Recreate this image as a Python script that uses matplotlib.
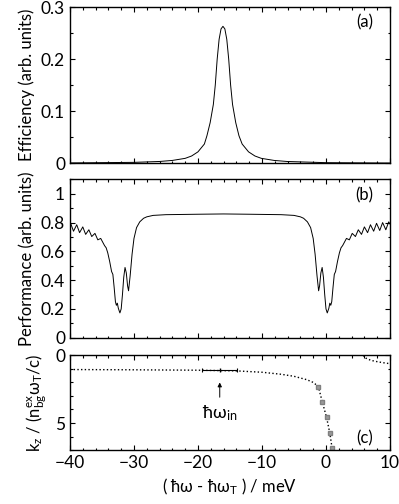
import matplotlib
matplotlib.use("Agg")
import matplotlib.pyplot as plt
from matplotlib.ticker import MultipleLocator

plt.rcParams['font.family'] = ['Lato', 'DejaVu Sans']
plt.rcParams['font.size'] = 12
plt.rcParams['mathtext.fontset'] = 'custom'
plt.rcParams['mathtext.rm'] = 'Lato'
plt.rcParams['mathtext.it'] = 'Lato'

# (a) efficiency peak
eff_x = [-40, -30, -26, -24, -22, -21, -20, -19, -18.6, -18.1, -17.6, -17.3,
         -17.0, -16.7, -16.4, -16.1, -15.8, -15.5, -15.2, -14.9, -14.6, -14.1,
         -13.6, -13.1, -12.1, -11.1, -10.1, -8.1, -6.1, 0, 10]
eff_y = [0.0007, 0.0018, 0.0035, 0.0055, 0.0095, 0.014, 0.022, 0.037, 0.053,
         0.078, 0.113, 0.150, 0.200, 0.238, 0.258, 0.263, 0.258, 0.238, 0.200,
         0.150, 0.113, 0.078, 0.053, 0.037, 0.022, 0.014, 0.0095, 0.0055,
         0.0035, 0.0012, 0.0005]

# (b) performance
perf_x = [-40.0, -39.9, -39.45, -38.95, -38.5, -38.0, -37.55, -37.05, -36.6, -36.1,
          -35.65, -35.2, -34.9, -34.6, -34.35, -34.1, -33.8, -33.5, -33.3, -33.1,
          -32.9, -32.75, -32.6, -32.45, -32.2, -32.0, -31.8, -31.6, -31.4, -31.2,
          -31.0, -30.85, -30.6, -30.3, -30.0, -29.6, -29.1, -28.5, -28.0, -27.0,
          -25.0, -20.0, -16.0, -12.0, -7.0, -5.0, -4.0, -3.5, -2.9, -2.4, -2.0,
          -1.7, -1.4, -1.15, -1.0, -0.8, -0.6, -0.4, -0.2, 0.0, 0.2, 0.45, 0.6,
          0.75, 0.9, 1.1, 1.3, 1.5, 1.8, 2.1, 2.35, 2.6, 2.9, 3.2, 3.65, 4.1, 4.6,
          5.05, 5.55, 6.0, 6.5, 6.95, 7.45, 7.9, 8.4, 8.85, 9.35, 9.8, 10.0]
perf_y = [0.790, 0.795, 0.740, 0.785, 0.730, 0.770, 0.718, 0.750, 0.703, 0.725,
          0.680, 0.690, 0.665, 0.640, 0.625, 0.590, 0.530, 0.460, 0.440, 0.350,
          0.250, 0.225, 0.240, 0.205, 0.172, 0.200, 0.300, 0.420, 0.488, 0.450,
          0.360, 0.326, 0.430, 0.580, 0.690, 0.765, 0.805, 0.830, 0.840, 0.850,
          0.855, 0.858, 0.860, 0.858, 0.855, 0.850, 0.840, 0.830, 0.805, 0.765,
          0.690, 0.580, 0.430, 0.326, 0.360, 0.450, 0.488, 0.420, 0.300, 0.200,
          0.172, 0.205, 0.240, 0.225, 0.250, 0.350, 0.440, 0.460, 0.530, 0.590,
          0.625, 0.640, 0.665, 0.690, 0.680, 0.725, 0.703, 0.750, 0.718, 0.770,
          0.730, 0.785, 0.740, 0.795, 0.745, 0.800, 0.750, 0.805, 0.790]

# (c) dispersion
kz_x = [-40, -30, -20, -14, -10, -7, -5, -3, -2, -1.2, -0.6, 0.1, 0.6, 1.0]
kz_y = [1.05, 1.07, 1.1, 1.15, 1.25, 1.4, 1.55, 1.8, 2.0, 2.3, 3.4, 4.6, 5.75, 7.0]
kz2_x = [5.8, 6.2, 7.0, 8.0, 9.0, 10.0]
kz2_y = [0.0, 0.2, 0.37, 0.47, 0.55, 0.62]
pt_x = [-1.2, -0.58, 0.1, 0.63, 0.98]
pt_y = [2.33, 3.43, 4.58, 5.75, 6.86]
pt_err = [0.3, 0.2, 0.2, 0.2, 0.2]
win_x = -16.6
win_y = 1.1
win_err = 2.75

fig = plt.figure(figsize=(3.99, 5.04), dpi=100)
ax1 = fig.add_axes([0.1754, 0.676, 0.802, 0.310])
ax2 = fig.add_axes([0.1754, 0.330, 0.802, 0.314])
ax3 = fig.add_axes([0.1754, 0.107, 0.802, 0.188])

for ax in (ax1, ax2, ax3):
    ax.set_xlim(-40, 10)
    ax.xaxis.set_major_locator(MultipleLocator(10))
    ax.xaxis.set_minor_locator(MultipleLocator(2))
    ax.tick_params(which='both', direction='in', top=True, right=True, width=0.8)
    ax.tick_params(which='major', length=3.5, labelsize=12.5)
    ax.tick_params(which='minor', length=1.8)
    for s in ax.spines.values():
        s.set_linewidth(1.0)

ax1.plot(eff_x, eff_y, 'k-', lw=0.7)
ax1.set_ylim(0, 0.3)
ax1.yaxis.set_minor_locator(MultipleLocator(0.05))
ax1.set_yticks([0, 0.1, 0.2, 0.3])
ax1.set_yticklabels(['0', '0.1', '0.2', '0.3'])
ax1.tick_params(labelbottom=False)
ax1.set_ylabel('Efficiency (arb. units)')
ax1.text(0.92, 0.9, '(a)', transform=ax1.transAxes, ha='center', va='center')

ax2.plot(perf_x, perf_y, 'k-', lw=0.7)
ax2.set_ylim(0, 1.1)
ax2.set_yticks([0, 0.2, 0.4, 0.6, 0.8, 1.0])
ax2.set_yticklabels(['0', '0.2', '0.4', '0.6', '0.8', '1'])
ax2.yaxis.set_minor_locator(MultipleLocator(0.1))
ax2.tick_params(labelbottom=False)
ax2.set_ylabel('Performance (arb. units)')
ax2.text(0.92, 0.9, '(b)', transform=ax2.transAxes, ha='center', va='center')

ax3.plot(kz_x, kz_y, 'k:', lw=1.0)
ax3.plot(kz2_x, kz2_y, 'k:', lw=1.0)
ax3.errorbar(pt_x, pt_y, xerr=pt_err, fmt='s', ms=2.2, mfc='0.6', mec='0.5',
             ecolor='k', elinewidth=0.6, capsize=1.2, capthick=0.6)
ax3.errorbar([win_x], [win_y], xerr=[win_err], fmt='|', ms=3, color='k',
             elinewidth=0.8, capsize=1.5, capthick=0.8)
ax3.annotate('', xy=(win_x, 1.8), xytext=(win_x, 3.3),
             arrowprops=dict(arrowstyle='-|>', color='k', lw=0.7,
                             mutation_scale=6))
ax3.text(win_x, 4.25, r'ħω$_{\mathrm{in}}$', ha='center', va='center',
         fontsize=13)
ax3.set_ylim(7, 0)
ax3.set_yticks([0, 5])
ax3.yaxis.set_minor_locator(MultipleLocator(1))
ax3.set_ylabel(r'k$_\mathrm{z}$ / (n$_\mathrm{bg}^\mathrm{ex}$ω$_\mathrm{T}$/c)')
ax3.set_xlabel(r'( ħω - ħω$_\mathrm{T}$ ) / meV')
ax3.text(0.92, 0.12, '(c)', transform=ax3.transAxes, ha='center', va='center')

fig.align_ylabels([ax1, ax2, ax3])
fig.savefig('out.png', dpi=100)
